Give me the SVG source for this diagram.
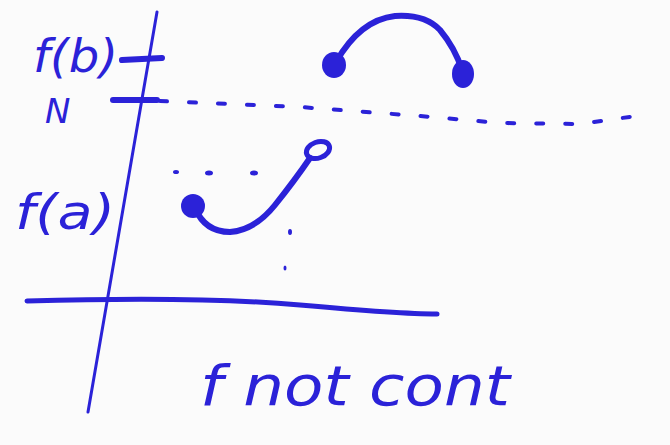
<svg xmlns="http://www.w3.org/2000/svg" width="670" height="445" viewBox="0 0 670 445">
<style>
.ink{fill:none;stroke:#2b22d8;stroke-linecap:round;stroke-linejoin:round}
.dot{fill:#2b22d8}
.t{fill:#2b22d8;font-family:"DejaVu Sans","Liberation Sans",sans-serif;font-style:italic}
</style>
<rect width="670" height="445" fill="#fbfbfb"/>
<!-- axes -->
<path class="ink" stroke-width="3" d="M157,12 L88,412"/>
<path class="ink" stroke-width="5" d="M27,301 Q200,296 300,305 T437,314"/>
<!-- ticks -->
<path class="ink" stroke-width="6" d="M122,60 L162,58"/>
<path class="ink" stroke-width="6" d="M113,100 L157,100"/>
<!-- dashed N line -->
<path class="ink" stroke-width="4" stroke-dasharray="7 22" d="M160,101 L300,107 L420,116 L500,123 L580,124 L650,114"/>
<!-- labels -->
<text class="t" x="33" y="72" font-size="46" textLength="85" lengthAdjust="spacingAndGlyphs">f(b)</text>
<text class="t" x="45" y="123" font-size="34">N</text>
<text class="t" x="15" y="229" font-size="48" textLength="100" lengthAdjust="spacingAndGlyphs">f(a)</text>
<text class="t" x="200" y="405" font-size="56" textLength="310" lengthAdjust="spacingAndGlyphs">f not cont</text>
<!-- top arc piece -->
<path class="ink" stroke-width="6" d="M336,62 Q360,20 395,16 Q425,14 440,30 Q455,48 462,70"/>
<ellipse class="dot" cx="334" cy="65" rx="12" ry="13"/>
<ellipse class="dot" cx="463" cy="74" rx="11" ry="14"/>
<!-- bottom piece -->
<path class="ink" stroke-width="6" d="M195,208 Q205,232 230,232 Q255,230 275,205 Q295,180 310,158"/>
<ellipse class="dot" cx="193" cy="206" rx="12" ry="12"/>
<ellipse class="ink" stroke-width="5" cx="318" cy="150" rx="12" ry="8" transform="rotate(-20 318 150)" fill="#fbfbfb"/>
<!-- dotted line and stray dots -->
<ellipse class="dot" cx="176" cy="172" rx="3" ry="2"/>
<ellipse class="dot" cx="209" cy="173" rx="4" ry="2.5"/>
<ellipse class="dot" cx="254" cy="173" rx="4" ry="2.5"/>
<ellipse class="dot" cx="290" cy="232" rx="2" ry="3"/>
<ellipse class="dot" cx="285" cy="268" rx="1.5" ry="2.5"/>
</svg>
